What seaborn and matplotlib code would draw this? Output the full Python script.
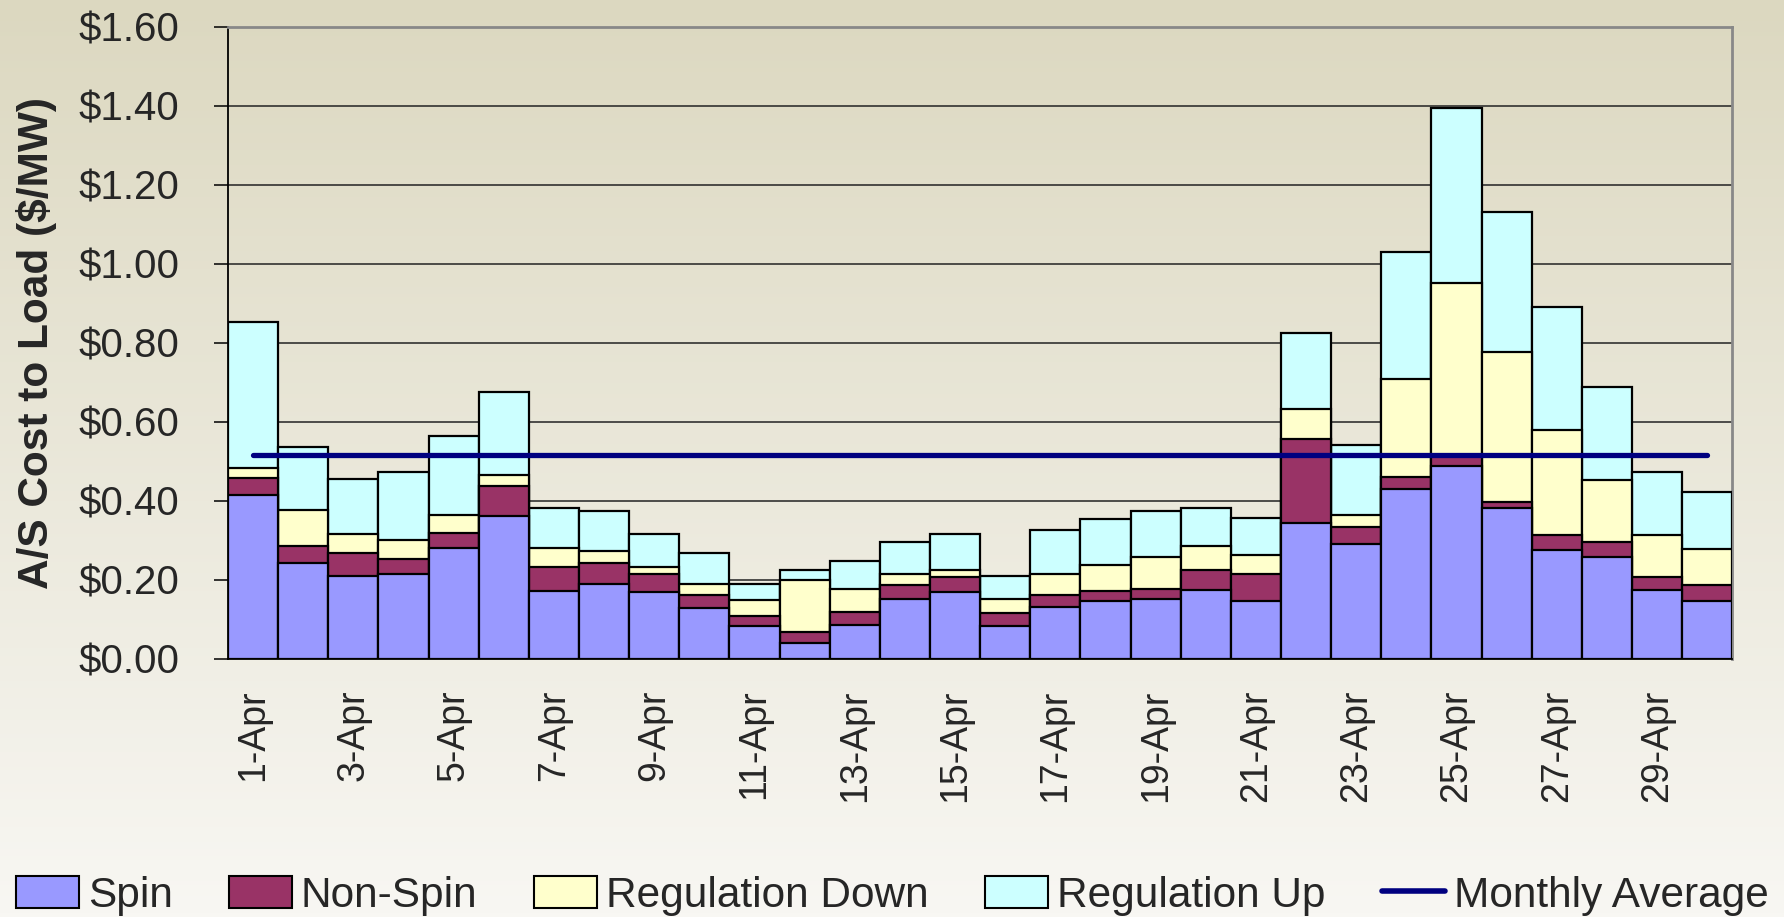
import numpy as np
import pandas as pd
import seaborn as sns
import matplotlib.pyplot as plt
from matplotlib.patches import Patch
from matplotlib.lines import Line2D
from matplotlib.ticker import FuncFormatter

# datos ($/MW)
dias = [f"{d}-Apr" for d in range(1, 31)]
spin = [0.415, 0.242, 0.210, 0.214, 0.282, 0.363, 0.171, 0.190, 0.170, 0.128,
        0.084, 0.041, 0.085, 0.152, 0.170, 0.084, 0.132, 0.147, 0.152, 0.175,
        0.147, 0.344, 0.291, 0.431, 0.488, 0.382, 0.275, 0.257, 0.175, 0.147]
non_spin = [0.044, 0.044, 0.058, 0.039, 0.038, 0.076, 0.063, 0.053, 0.044, 0.034,
            0.026, 0.026, 0.034, 0.035, 0.037, 0.032, 0.031, 0.025, 0.024, 0.049,
            0.067, 0.212, 0.043, 0.029, 0.027, 0.015, 0.040, 0.039, 0.033, 0.039]
reg_down = [0.025, 0.091, 0.048, 0.048, 0.044, 0.026, 0.048, 0.030, 0.020, 0.029,
            0.038, 0.133, 0.057, 0.027, 0.018, 0.037, 0.051, 0.066, 0.082, 0.062,
            0.049, 0.077, 0.030, 0.249, 0.438, 0.379, 0.265, 0.158, 0.107, 0.092]
reg_up = [0.368, 0.160, 0.139, 0.173, 0.201, 0.210, 0.100, 0.101, 0.082, 0.077,
          0.042, 0.025, 0.072, 0.082, 0.091, 0.057, 0.113, 0.116, 0.116, 0.096,
          0.095, 0.192, 0.177, 0.321, 0.442, 0.355, 0.311, 0.235, 0.159, 0.144]
monthly_avg = 0.516

series = ["Spin", "Non-Spin", "Regulation Down", "Regulation Up"]
colores = ["#9999FF", "#993366", "#FFFFCC", "#CCFFFF"]

df = pd.DataFrame({"dia": dias, "Spin": spin, "Non-Spin": non_spin,
                   "Regulation Down": reg_down, "Regulation Up": reg_up})
# acumulados para apilar
acum = df[series].cumsum(axis=1)
acum["dia"] = df["dia"]

sns.set_style("white")
plt.rcParams["font.family"] = ["Liberation Sans", "DejaVu Sans"]

fig = plt.figure(figsize=(17.84, 9.17), dpi=100)

# fondo degradado
bg = fig.add_axes([0, 0, 1, 1], zorder=-10)
top_c = np.array([220, 216, 192]) / 255
bot_c = np.array([248, 247, 243]) / 255
t = np.linspace(0, 1, 256)[:, None]
grad = top_c[None, :] * (1 - t) + bot_c[None, :] * t
bg.imshow(grad[:, None, :], aspect="auto", extent=[0, 1, 0, 1])
bg.axis("off")

ax = fig.add_axes([0.1278, 0.2814, 0.8432, 0.6892])
ax.set_facecolor("none")

# barras apiladas: de la mas alta a la mas baja
for s, c in reversed(list(zip(series, colores))):
    sns.barplot(data=acum, x="dia", y=s, order=dias, color=c, width=1,
                saturation=1, edgecolor="black", linewidth=1.6,
                errorbar=None, ax=ax, zorder=3)

# promedio mensual
ax.plot(range(len(dias)), [monthly_avg] * len(dias), color="#000080",
        lw=3.8, solid_capstyle="round", zorder=5)

ax.set_xlim(-0.5, len(dias) - 0.5)
ax.set_ylim(0, 1.6)
ax.set_yticks(np.arange(0, 1.61, 0.2))
ax.yaxis.set_major_formatter(FuncFormatter(lambda v, p: f"${v:.2f}"))
ax.grid(axis="y", color="#222222", lw=1.1)
ax.set_axisbelow(True)

ax.set_xticks(range(len(dias)))
ax.set_xticklabels([d if i % 2 == 0 else "" for i, d in enumerate(dias)],
                   rotation=90)
ax.set_xticks(np.arange(-0.5, len(dias)), minor=True)
ax.tick_params(axis="x", which="major", length=0, pad=22, labelsize=27)
ax.tick_params(axis="x", which="minor", length=10, width=1.1, color="black")
ax.tick_params(axis="y", length=10, width=1.1, color="black", pad=25,
               labelsize=29, left=True)

ax.set_xlabel("")
ax.set_ylabel("A/S Cost to Load ($/MW)", fontsize=30.5, fontweight="bold")
ax.yaxis.set_label_coords(-0.114, 0.5)

for side in ["left", "bottom"]:
    ax.spines[side].set_color("black")
    ax.spines[side].set_linewidth(1.3)
for side in ["top", "right"]:
    ax.spines[side].set_color("#888888")
    ax.spines[side].set_linewidth(2)

# leyenda
handles = [Patch(facecolor=c, edgecolor="black", lw=1.5) for c in colores]
handles.append(Line2D([0], [0], color="#000080", lw=4))
fig.legend(handles, series + ["Monthly Average"], loc="center",
           bbox_to_anchor=(0.5, 0.023), ncol=5, frameon=False, fontsize=30.5,
           handlelength=1.5, handleheight=0.8, handletextpad=0.2,
           columnspacing=1.33)

fig.savefig("out.png", dpi=100)
